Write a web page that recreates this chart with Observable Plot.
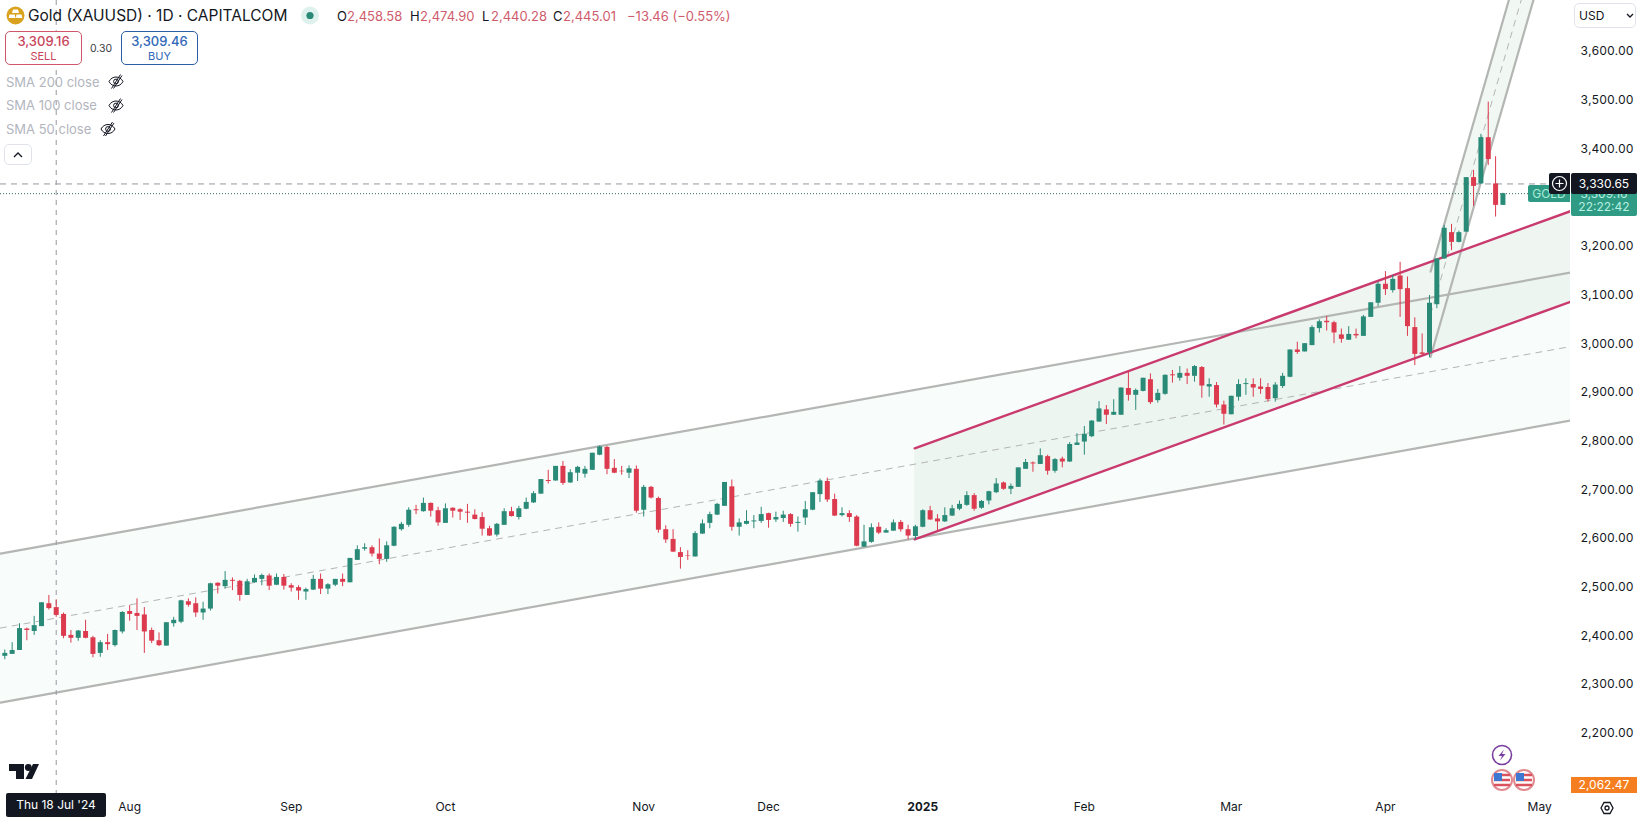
<!DOCTYPE html>
<html>
<head>
<meta charset="utf-8">
<title>Gold (XAUUSD) 1D</title>
<script src="https://cdn.jsdelivr.net/npm/d3@7"></script>
<script src="https://cdn.jsdelivr.net/npm/@observablehq/plot@0.6"></script>
<style>
  html, body { margin: 0; background: #fff; overflow: hidden; }
  body { font-family: Inter, "Noto Sans", sans-serif; color: #131722; }
  #chart { position: relative; width: 1638px; height: 821px; }
  #chart svg { display: block; }
  #icons { position: absolute; left: 0; top: 0; pointer-events: none; }
  .lbl { position: absolute; white-space: nowrap; box-sizing: border-box; }
  .box { border-radius: 5px; border: 1px solid; text-align: center; background: #fff; }
  .sma { color: #b2b5be; font-size: 13px; left: 6px; }
</style>
</head>
<body>
<div id="chart"></div>
<script>
// one candle per trading day, first one is 9 Jul 2024
const opens = [
  2356,2360,2368,2412,2407,2417,2464,2456,2442,2399,
  2393,2407,2394,2362,2384,2378,2406,2448,2444,2441,
  2409,2388,2377,2423,2426,2468,2464,2445,2453,2506,
  2499,2512,2510,2481,2507,2514,2521,2502,2518,2501,
  2497,2488,2492,2514,2494,2502,2514,2507,2553,2576,
  2579,2566,2555,2582,2616,2625,2657,2653,2670,2655,
  2629,2660,2657,2652,2646,2641,2618,2605,2625,2653,
  2641,2658,2671,2689,2717,2716,2746,2712,2732,2730,
  2738,2769,2785,2742,2736,2732,2740,2656,2703,2680,
  2616,2596,2569,2563,2560,2607,2629,2646,2664,2704,
  2621,2627,2632,2633,2649,2636,2639,2647,2629,2640,
  2656,2688,2715,2678,2645,2649,2642,2580,2590,2621,
  2609,2613,2631,2616,2602,2621,2655,2638,2632,2644,
  2658,2666,2686,2660,2675,2692,2712,2699,2703,2740,
  2753,2750,2766,2736,2761,2755,2789,2796,2807,2837,
  2862,2851,2851,2906,2892,2900,2924,2881,2894,2934,
  2927,2937,2931,2949,2909,2912,2872,2852,2888,2914,
  2914,2909,2908,2885,2910,2929,2985,2981,2994,3029,
  3044,3041,3016,3005,3017,3013,3052,3081,3120,3107,
  3137,3111,3031,2979,2979,3078,3172,3226,3206,3227,
  3339,3326,3421,3326,3282
];
const highs = [
  2369,2384,2423,2414,2438,2466,2481,2472,2445,2409,
  2409,2430,2397,2388,2401,2410,2448,2460,2474,2456,
  2414,2404,2425,2436,2471,2474,2476,2467,2506,2507,
  2530,2517,2512,2514,2523,2525,2525,2525,2524,2505,
  2501,2496,2522,2525,2505,2514,2525,2557,2583,2587,
  2583,2597,2591,2622,2631,2661,2666,2681,2671,2662,
  2669,2661,2659,2668,2657,2651,2623,2629,2659,2662,
  2664,2681,2694,2719,2738,2746,2756,2739,2746,2746,
  2773,2788,2787,2760,2746,2747,2747,2707,2705,2683,
  2624,2616,2579,2573,2612,2636,2652,2670,2713,2718,
  2638,2655,2645,2662,2650,2652,2654,2649,2642,2674,
  2692,2720,2722,2689,2661,2655,2645,2625,2628,2630,
  2618,2636,2635,2625,2625,2657,2664,2647,2661,2666,
  2675,2694,2690,2676,2695,2721,2714,2710,2743,2760,
  2755,2782,2769,2762,2765,2795,2813,2828,2840,2879,
  2871,2883,2907,2940,2905,2927,2936,2904,2934,2943,
  2951,2946,2953,2951,2926,2918,2880,2890,2924,2926,
  2926,2926,2916,2918,2937,2985,3001,2998,3035,3047,
  3054,3044,3028,3033,3028,3056,3082,3124,3146,3138,
  3165,3135,3051,3018,3097,3172,3241,3243,3229,3339,
  3354,3428,3494,3382,3307
];
const lows = [
  2349,2360,2368,2388,2399,2417,2451,2436,2392,2383,
  2387,2392,2353,2354,2368,2375,2402,2428,2409,2362,
  2382,2376,2377,2416,2423,2457,2436,2430,2449,2484,
  2494,2491,2469,2481,2506,2501,2491,2501,2492,2488,
  2471,2471,2491,2483,2483,2499,2499,2507,2553,2572,
  2560,2544,2549,2581,2613,2621,2647,2652,2642,2623,
  2629,2640,2635,2629,2636,2603,2602,2601,2625,2642,
  2636,2657,2670,2689,2710,2716,2707,2711,2715,2722,
  2738,2768,2729,2731,2728,2721,2650,2642,2679,2609,
  2588,2569,2535,2553,2560,2606,2618,2645,2664,2613,
  2603,2626,2618,2629,2619,2631,2631,2621,2611,2625,
  2655,2672,2672,2643,2642,2631,2581,2580,2588,2606,
  2609,2613,2611,2595,2595,2620,2635,2613,2631,2643,
  2655,2664,2654,2658,2667,2690,2697,2688,2703,2740,
  2734,2750,2728,2732,2743,2754,2789,2769,2805,2837,
  2832,2851,2851,2880,2861,2899,2873,2876,2892,2917,
  2921,2914,2919,2886,2888,2866,2831,2852,2880,2892,
  2888,2894,2878,2878,2906,2928,2976,2981,2994,3020,
  3024,2998,2999,3005,3008,3013,3052,3074,3097,3102,
  3052,3013,2953,2974,2969,3070,3171,3189,3205,3227,
  3280,3325,3364,3258,3282
];
const closes = [
  2362,2368,2413,2409,2419,2466,2454,2440,2397,2393,
  2408,2393,2360,2384,2380,2409,2446,2442,2438,2406,
  2387,2378,2425,2430,2470,2461,2445,2453,2505,2500,
  2512,2510,2481,2509,2516,2522,2500,2518,2500,2496,
  2490,2493,2514,2494,2503,2514,2508,2557,2575,2579,
  2566,2555,2583,2621,2627,2656,2655,2670,2654,2630,
  2659,2654,2652,2650,2637,2617,2603,2627,2653,2643,
  2659,2672,2690,2719,2715,2746,2711,2733,2744,2740,
  2773,2786,2740,2732,2735,2741,2654,2703,2681,2615,
  2595,2570,2559,2562,2608,2628,2647,2668,2713,2621,
  2630,2633,2634,2647,2635,2641,2646,2627,2631,2657,
  2692,2716,2677,2644,2649,2641,2582,2591,2620,2609,
  2614,2630,2616,2603,2622,2655,2636,2632,2645,2659,
  2668,2686,2658,2674,2694,2710,2699,2705,2743,2754,
  2751,2768,2736,2760,2755,2791,2794,2812,2839,2864,
  2851,2857,2907,2892,2902,2927,2877,2896,2933,2932,
  2937,2931,2951,2911,2914,2872,2853,2890,2914,2916,
  2907,2904,2883,2913,2931,2985,2980,2998,3031,3043,
  3041,3020,3007,3017,3014,3053,3082,3120,3109,3130,
  3109,3033,2976,2976,3081,3172,3235,3206,3226,3339,
  3321,3421,3376,3282,3306
];

// month labels sit at these bar numbers
const monthBars = [18, 40, 61, 88, 105, 148, 168, 189, 210];
const monthNames = ["Aug", "Sep", "Oct", "Nov", "Dec", "Feb", "Mar", "Apr", "May"];
const yearBars = [126];
const yearNames = ["2025"];
const priceTicks = [2100, 2200, 2300, 2400, 2500, 2600, 2700, 2800, 2900, 3000, 3100, 3200, 3400, 3500, 3600];

// drawn channels, [start, end] in bar number and price
const wideX = [0.4, 214.2];
const wideUpper = [2567, 3144];
const wideMiddle = [2414, 2992];
const wideLower = [2261, 2840];

const pinkX = [124.9, 214.2];
const pinkUpper = [2783, 3270];
const pinkLower = [2596, 3084];

const steepX = [195.15, 210];
const steepUpper = [3146, 3923];
const steepMiddle = [3058, 3835];
const steepLower = [2971, 3748];

const crosshairBar = 8;
const crosshairPrice = 3326;
const lastPriceLevel = 3306;

const green = "#2a8a78", red = "#dc3a4e", grey = "#b4b6b3", pink = "#c93a6e";

const candles = opens.map((o, i) => ({
  bar: i + 1, open: o, high: highs[i], low: lows[i], close: closes[i],
  color: closes[i] >= o ? green : red
}));

const points = (xs, lower, upper, middle) => xs.map((x, i) => ({
  x, lower: lower[i], upper: upper[i], middle: middle ? middle[i] : null
}));
const wide = points(wideX, wideLower, wideUpper, wideMiddle);
const pinkCh = points(pinkX, pinkLower, pinkUpper);
const steep = points(steepX, steepLower, steepUpper, steepMiddle);

const monthName = new Map(monthBars.map((b, i) => [b, monthNames[i]]));
const yearName = new Map(yearBars.map((b, i) => [b, yearNames[i]]));

const plot = Plot.plot({
  width: 1638,
  height: 821,
  marginLeft: 0,
  marginRight: 68,
  marginTop: 0,
  marginBottom: 28,
  style: { fontFamily: "Inter, sans-serif", background: "#fff", color: "#131722" },
  x: { domain: [0.414, 214.2], axis: null },
  y: { domain: [2074.3, 3702.7], axis: null },
  marks: [
    // channel fills
    Plot.areaY(wide, { x: "x", y1: "lower", y2: "upper", fill: "#f8fcfa", clip: true }),
    Plot.areaY(pinkCh, { x: "x", y1: "lower", y2: "upper", fill: "#e9f3ec", fillOpacity: 0.75, clip: true }),
    Plot.areaY(steep, { x: "x", y1: "lower", y2: "upper", fill: "#f1f8f3", clip: true }),

    // channel lines
    Plot.lineY(wide, { x: "x", y: "upper", stroke: grey, strokeWidth: 2.2, clip: true }),
    Plot.lineY(wide, { x: "x", y: "lower", stroke: grey, strokeWidth: 2.2, clip: true }),
    Plot.lineY(wide, { x: "x", y: "middle", stroke: grey, strokeWidth: 1, strokeDasharray: "6,6", clip: true }),
    Plot.lineY(steep, { x: "x", y: "upper", stroke: grey, strokeWidth: 2.2, clip: true }),
    Plot.lineY(steep, { x: "x", y: "lower", stroke: grey, strokeWidth: 2.2, clip: true }),
    Plot.lineY(steep, { x: "x", y: "middle", stroke: grey, strokeWidth: 1, strokeDasharray: "6,6", clip: true }),
    Plot.lineY(pinkCh, { x: "x", y: "upper", stroke: pink, strokeWidth: 2.4, clip: true }),
    Plot.lineY(pinkCh, { x: "x", y: "lower", stroke: pink, strokeWidth: 2.4, clip: true }),

    // crosshair and last price level
    Plot.ruleX([crosshairBar], { stroke: "#9598a1", strokeDasharray: "5,5" }),
    Plot.ruleY([crosshairPrice], { stroke: "#9598a1", strokeDasharray: "6,5" }),
    Plot.ruleY([lastPriceLevel], { stroke: "#2f6f64", strokeDasharray: "1,2" }),

    // candles
    Plot.ruleX(candles, { x: "bar", y1: "low", y2: "high", stroke: "color", strokeWidth: 1 }),
    Plot.ruleX(candles, { x: "bar", y1: "open", y2: "close", stroke: "color", strokeWidth: 5 }),

    Plot.axisY({
      anchor: "right", ticks: priceTicks, tickSize: 0, tickPadding: 10, label: null, dy: 1,
      tickFormat: d3.format(",.2f"), fontSize: 12, stroke: "none"
    }),
    Plot.axisX({
      ticks: monthBars, tickSize: 0, tickPadding: 9, label: null, fontSize: 12,
      tickFormat: d => monthName.get(d)
    }),
    Plot.axisX({
      ticks: yearBars, tickSize: 0, tickPadding: 9, label: null, fontSize: 12,
      fontWeight: "bold", tickFormat: d => yearName.get(d)
    })
  ]
});

const chart = document.getElementById("chart");
chart.append(plot);

function label(text, left, top, extra) {
  const d = document.createElement("div");
  d.className = "lbl " + (extra && extra.cls ? extra.cls : "");
  d.textContent = text;
  d.style.left = left + "px";
  d.style.top = top + "px";
  if (extra) Object.entries(extra).forEach(([k, v]) => { if (k !== "cls") d.style[k] = v; });
  chart.append(d);
  return d;
}

// legend, top left
label("Gold (XAUUSD) · 1D · CAPITALCOM", 28, 7, { fontSize: "15.5px", lineHeight: "18px" });
const ohlcRed = "#cf5c6d";
[["O", 337], ["H", 410], ["L", 482], ["C", 553]].forEach(([t, x]) =>
  label(t, x, 8, { fontSize: "13px", lineHeight: "16px" }));
[["2,458.58", 347], ["2,474.90", 420], ["2,440.28", 491], ["2,445.01", 563]].forEach(([t, x]) =>
  label(t, x, 8, { fontSize: "13px", lineHeight: "16px", color: ohlcRed }));
label("−13.46 (−0.55%)", 627, 8, { fontSize: "13px", lineHeight: "16px", color: ohlcRed });

label("", 5, 31, { cls: "box", width: "77px", height: "34px", borderColor: "#d0576b" });
label("3,309.16", 5, 33, { width: "77px", textAlign: "center", fontSize: "13px", fontWeight: "500", color: "#c8455c" });
label("SELL", 5, 49, { width: "77px", textAlign: "center", fontSize: "11px", color: "#c8455c" });
label("0.30", 90, 42, { fontSize: "10.5px", color: "#3a3d45" });
label("", 121, 31, { cls: "box", width: "77px", height: "34px", borderColor: "#2a5fa8" });
label("3,309.46", 121, 33, { width: "77px", textAlign: "center", fontSize: "13px", fontWeight: "500", color: "#2f68b8" });
label("BUY", 121, 49, { width: "77px", textAlign: "center", fontSize: "11px", color: "#2f68b8" });

label("SMA 200 close", 6, 74, { cls: "sma" });
label("SMA 100 close", 6, 97, { cls: "sma" });
label("SMA 50 close", 6, 121, { cls: "sma" });
label("", 4, 144, { cls: "box", width: "28px", height: "21px", borderColor: "#e0e3eb" });

// price scale labels, right side
label("USD", 1574, 3, { cls: "box", width: "62px", height: "25px", borderColor: "#e0e3eb", fontSize: "12px", lineHeight: "23px", textAlign: "left", paddingLeft: "4px" });
label("GOLD", 1528, 185, { width: "42px", height: "17px", background: "#2f9b84", color: "#a9ecd9", fontSize: "12px", lineHeight: "17px", textAlign: "center", borderRadius: "2px 0 0 2px" });
// the last price sits mostly behind the dark crosshair label, as in the picture
label("3,309.16", 1571, 187, { width: "66px", height: "29px", background: "#2f9b84", color: "#b7f0e0", fontSize: "12px", lineHeight: "13px", textAlign: "center", borderRadius: "0 0 2px 2px" });
label("22:22:42", 1571, 200, { width: "66px", color: "#b7f0e0", fontSize: "12px", lineHeight: "14px", textAlign: "center" });
label("", 1549, 173, { width: "21px", height: "21px", background: "#131722", borderRadius: "2px 0 0 2px" });
label("3,330.65", 1571, 173, { width: "66px", height: "21px", background: "#131722", color: "#fff", fontSize: "12px", lineHeight: "21px", textAlign: "center", borderRadius: "2px" });
label("2,062.47", 1571, 777, { width: "66px", height: "16px", background: "#f57f20", color: "#fff", fontSize: "12px", lineHeight: "16px", textAlign: "center" });
label("Thu 18 Jul '24", 6, 793, { width: "100px", height: "24px", background: "#131722", color: "#fff", fontSize: "12px", lineHeight: "24px", textAlign: "center", borderRadius: "2px" });

// small icons
const eye = (x, y) => `<g transform="translate(${x},${y})" fill="none" stroke="#131722" stroke-width="1">
  <path d="M-7 0 C-4 -6 4 -6 7 0 C4 6 -4 6 -7 0Z"/><circle r="2.4"/><path d="M-4.5 7 L4.5 -7 M-2.5 7 L6 -6"/></g>`;
const flag = (x, y) => `<g transform="translate(${x},${y})">
  <circle r="10" fill="#fff" stroke="#e08a90" stroke-width="2"/>
  <path d="M-8 -5 H8 M-8 0 H8 M-8 5 H8" stroke="#d9525e" stroke-width="2.4"/>
  <path d="M-8 -7 H0 V1 H-8Z" fill="#3f78d0"/></g>`;
const icons = document.createElementNS("http://www.w3.org/2000/svg", "svg");
icons.setAttribute("id", "icons");
icons.setAttribute("width", 1638);
icons.setAttribute("height", 821);
icons.innerHTML = `
  <circle cx="15.5" cy="15.5" r="9" fill="#d9a21e"/>
  <path d="M13 9.5 H18 L19 13 H12Z M9.5 14.5 H14.7 L15.5 18 H8.7Z M16.5 14.5 H21.5 L22.3 18 H15.7Z" fill="#fff"/>
  <circle cx="310" cy="15.5" r="9" fill="#dff1ed"/>
  <circle cx="310" cy="15.5" r="3.6" fill="#2a8a78"/>
  ${eye(116, 81.5)}${eye(116, 105.5)}${eye(108, 129)}
  <path d="M14 157 L18 153 L22 157" fill="none" stroke="#131722" stroke-width="1.3"/>
  <path d="M1627 14 L1630 17 L1633 14" fill="none" stroke="#131722" stroke-width="1.3"/>
  <circle cx="1559.5" cy="183.5" r="7" fill="none" stroke="#fff" stroke-width="1.2"/>
  <path d="M1555.5 183.5 H1563.5 M1559.5 179.5 V187.5" stroke="#fff" stroke-width="1.2"/>
  <path d="M9 764 H24 V779 H16 V771 H9Z M33 764 H39 L32 779 H25.5Z" fill="#131722"/>
  <circle cx="28.3" cy="767.5" r="3.4" fill="#131722"/>
  <circle cx="1502" cy="755" r="9.5" fill="#fff" stroke="#7b3fa0" stroke-width="1.6"/>
  <path d="M1504 749.5 L1498.5 756 H1502 L1500 760.5 L1505.5 754 H1502Z" fill="#7b3fa0"/>
  ${flag(1502, 780)}${flag(1524, 780)}
  <path d="M1601 808 L1604 802.5 H1610 L1613 808 L1610 813.5 H1604Z" fill="none" stroke="#131722" stroke-width="1.3"/>
  <circle cx="1607" cy="808" r="2" fill="none" stroke="#131722" stroke-width="1.3"/>`;
chart.append(icons);
</script>
</body>
</html>
